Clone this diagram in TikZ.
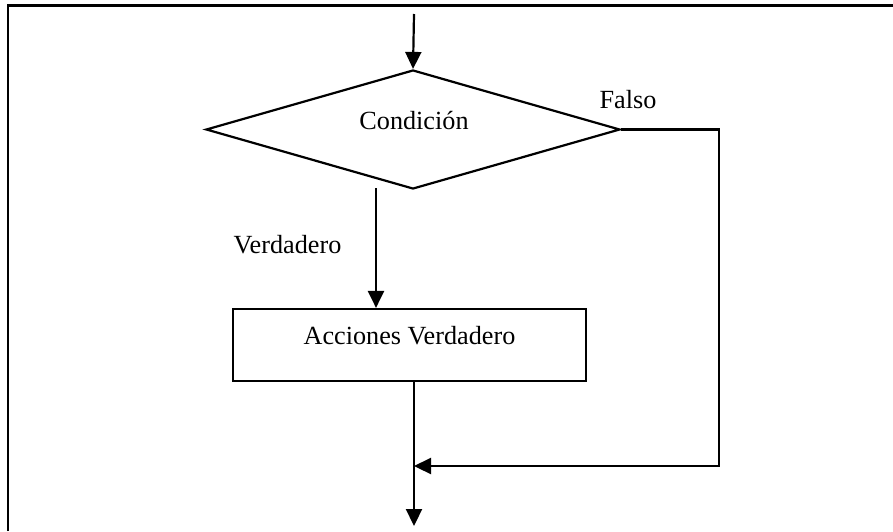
\documentclass[tikz,border=0pt]{standalone}
\usepackage{fontspec}
\setmainfont{Liberation Serif}
\usetikzlibrary{shapes.geometric,arrows.meta}
\begin{document}
\begin{tikzpicture}[x=1pt,y=-1pt,
  line/.style={line width=2.2pt},
  arr/.style={line width=2.2pt,-{Triangle[length=17pt,width=16pt]}},
  lbl/.style={font=\fontsize{26.2}{30}\selectfont,inner sep=0pt,anchor=base},
  every node/.style={inner sep=0pt}]
\useasboundingbox (0,0) rectangle (893,531);
% frame
\draw[line width=2.6pt] (8,531) -- (8,5.5) -- (895,5.5);
% shapes
\node[diamond,draw,line width=2.2pt,minimum width=414pt,minimum height=119pt] (d) at (413,129.5) {};
\node[rectangle,draw,line width=2.2pt,minimum width=353pt,minimum height=72pt] (box) at (409.5,345) {};
% texts
\node[lbl] (tc) at (414,129) {Condición};
\node[lbl] (tf) at (628,108) {Falso};
\node[lbl] (tv) at (287.5,253) {Verdadero};
\node[lbl] (ta) at (409.5,344) {Acciones Verdadero};
% coordinates
\coordinate (top) at (414,14);
\coordinate (vs) at (376,188);
\coordinate (fc) at (719,466);
\coordinate (mg) at (414,466);
\coordinate (bot) at (414,526);
% connectors
\draw[arr] (top) -- (d.north);
\draw[arr] (vs) -- (vs |- box.north);
\draw[arr] (bot |- box.south) -- (bot);
\draw[arr] (d.east) -| (fc) -- (mg);
\end{tikzpicture}
\end{document}
